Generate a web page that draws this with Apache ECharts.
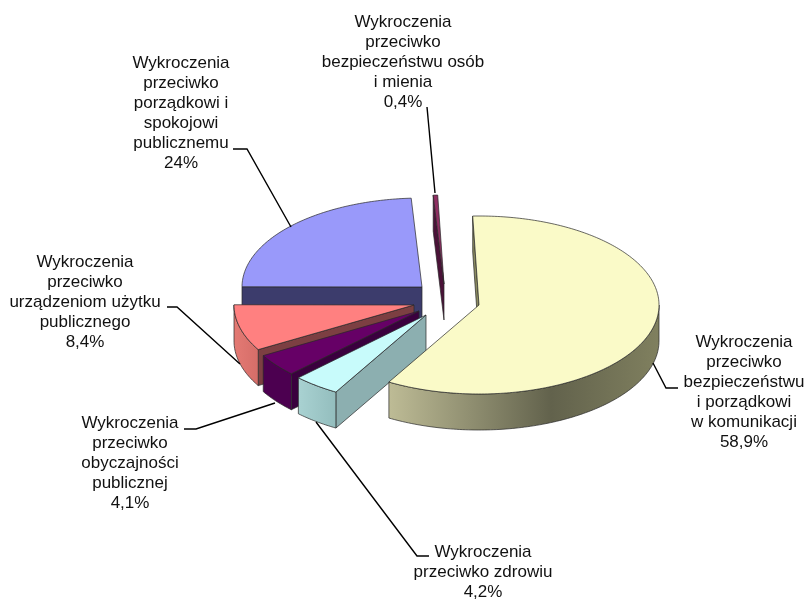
<!DOCTYPE html>
<html>
<head>
<meta charset="utf-8">
<style>html,body{margin:0;padding:0;background:#fff}#c{width:807px;height:599px}</style>
<script src="https://cdn.jsdelivr.net/npm/echarts@6/dist/echarts.min.js"></script>
</head>
<body>
<div id="c"></div>
<script>
// ---- data ----
const categories = [
  'Wykroczenia\nprzeciwko\nbezpieczeństwu\ni porządkowi\nw komunikacji',
  'Wykroczenia\nprzeciwko zdrowiu',
  'Wykroczenia\nprzeciwko\nobyczajności\npublicznej',
  'Wykroczenia\nprzeciwko\nurządzeniom użytku\npublicznego',
  'Wykroczenia\nprzeciwko\nporządkowi i\nspokojowi\npublicznemu',
  'Wykroczenia\nprzeciwko\nbezpieczeństwu osób\ni mienia'
];
const percentValues = [58.9, 4.2, 4.1, 8.4, 24, 0.4];

// ---- layout and style ----
const center = [430, 300];
const radiusX = 180, radiusY = 89, depth = 36, startAngle = -2;
const explodeOffsets = [[49, 5], [-4, 15], [-11, 11], [-16, 5], [-8, -13], [14, -16]];
const drawOrder = [6, 5, 4, 3, 2, 1];
const topColors = ['#FAFAC8', '#C8FBFB', '#660066', '#FF8080', '#9999FA', '#8E2F62'];
const faceColors = ['#8A8A60', '#8CAFB0', '#3A003E', '#7C3F42', '#3C3C6C', '#4A1238'];
const rimStops = [
  [[0, '#BEBC96'], [0.6, '#62624C'], [1, '#80805F']],
  [[0, '#A9D2D2'], [1, '#93BDBD']],
  [[0, '#4C0050'], [1, '#4C0050']],
  [[0, '#E47A74'], [1, '#D56D68']],
  [[0, '#3C3C6C'], [1, '#3C3C6C']],
  [[0, '#4A1238'], [1, '#4A1238']]
];
const labelCenters = [[744, 332], [483, 542], [130, 413], [85, 252], [181, 53], [403, 12]];
const leaderLines = [
  [[653, 363], [666, 388], [678, 388]],
  [[316, 422], [417, 556], [429, 556]],
  [[275, 403], [196, 429], [184, 429]],
  [[240, 364], [177, 307], [167, 307]],
  [[291, 227], [247, 149], [233, 149]],
  [[435, 193], [427, 107]]
];
const fontFamily = '"Liberation Sans", Arial, sans-serif';
const edge = 'rgba(40,40,40,0.7)';

// ---- slice angles derived from the values ----
const total = percentValues.reduce((a, b) => a + b, 0);
const angles = [];
let cursor = startAngle;
percentValues.forEach(v => {
  const next = cursor + v / total * 360;
  angles.push([cursor, next]);
  cursor = next;
});

function rimPoint(i, deg, drop) {
  const t = deg * Math.PI / 180;
  return [
    center[0] + explodeOffsets[i][0] + radiusX * Math.sin(t),
    center[1] + explodeOffsets[i][1] - radiusY * Math.cos(t) + (drop || 0)
  ];
}
function arc(i, from, to, drop) {
  const n = Math.max(2, Math.ceil(Math.abs(to - from)));
  const pts = [];
  for (let k = 0; k <= n; k++) pts.push(rimPoint(i, from + (to - from) * k / n, drop));
  return pts;
}
function apex(i, drop) {
  return [center[0] + explodeOffsets[i][0], center[1] + explodeOffsets[i][1] + (drop || 0)];
}
function formatValue(v) { return String(v).replace('.', ',') + '%'; }

function renderSlice(params, api) {
  const i = params.dataIndex;
  const a = angles[i][0], b = angles[i][1];
  const order = drawOrder[i] * 10;
  const children = [];
  // start cut face
  children.push({
    type: 'polygon', z2: order,
    shape: { points: [rimPoint(i, a), apex(i), apex(i, depth), rimPoint(i, a, depth)] },
    style: { fill: faceColors[i], stroke: edge, lineWidth: 1 }
  });
  // outer rim, front half only
  const from = Math.max(a, 90), to = Math.min(b, 270);
  if (to > from) {
    children.push({
      type: 'polygon', z2: order + 1,
      shape: { points: arc(i, from, to).concat(arc(i, to, from, depth)) },
      style: {
        fill: new echarts.graphic.LinearGradient(0, 0, 1, 0,
          rimStops[i].map(s => ({ offset: s[0], color: s[1] }))),
        stroke: edge, lineWidth: 1
      }
    });
  }
  // top face
  children.push({
    type: 'polygon', z2: order + 2,
    shape: { points: [apex(i)].concat(arc(i, a, b)) },
    style: { fill: topColors[i], stroke: edge, lineWidth: 1 }
  });
  // leader line
  children.push({
    type: 'polyline', z2: 100,
    shape: { points: leaderLines[i] },
    style: { fill: null, stroke: '#000', lineWidth: 1.4 }
  });
  // label
  children.push({
    type: 'text', z2: 101,
    x: labelCenters[i][0], y: labelCenters[i][1],
    style: {
      text: categories[i] + '\n' + formatValue(api.value(0)),
      align: 'center', verticalAlign: 'top',
      font: '17px ' + fontFamily, lineHeight: 20, fill: '#111'
    }
  });
  return { type: 'group', children: children };
}

const chart = echarts.init(document.getElementById('c'), null, { renderer: 'canvas' });
chart.setOption({
  animation: false,
  backgroundColor: '#fff',
  series: [{
    type: 'custom',
    coordinateSystem: 'none',
    renderItem: renderSlice,
    data: percentValues.map(v => [v])
  }]
});
</script>
</body>
</html>
